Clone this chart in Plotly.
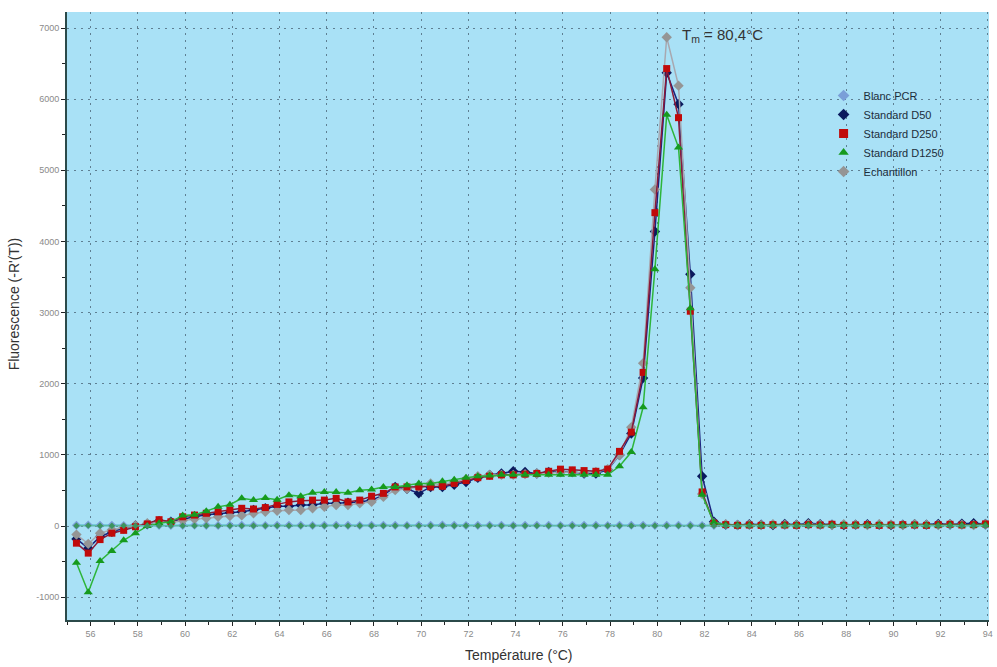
import plotly.graph_objects as go

temperature = [55.4, 55.9, 56.4, 56.9, 57.4, 57.9, 58.4, 58.9, 59.4, 59.9,
               60.4, 60.9, 61.4, 61.9, 62.4, 62.9, 63.4, 63.9, 64.4, 64.9,
               65.4, 65.9, 66.4, 66.9, 67.4, 67.9, 68.4, 68.9, 69.4, 69.9,
               70.4, 70.9, 71.4, 71.9, 72.4, 72.9, 73.4, 73.9, 74.4, 74.9,
               75.4, 75.9, 76.4, 76.9, 77.4, 77.9, 78.4, 78.9, 79.4, 79.9,
               80.4, 80.9, 81.4, 81.9, 82.4, 82.9, 83.4, 83.9, 84.4, 84.9,
               85.4, 85.9, 86.4, 86.9, 87.4, 87.9, 88.4, 88.9, 89.4, 89.9,
               90.4, 90.9, 91.4, 91.9, 92.4, 92.9, 93.4, 93.9]

blanc_pcr = [10, 15, 12, 10, 8, 10, 12, 10, 8, 10, 12, 10, 8, 10, 12, 10,
             8, 10, 12, 10, 8, 10, 12, 10, 8, 10, 12, 10, 8, 10, 12, 14,
             10, 8, 10, 12, 10, 8, 10, 12, 10, 8, 10, 12, 10, 8, 10, 12,
             10, 8, 10, 12, 10, 8, 10, 12, 10, 8, 10, 12, 10, 8, 10, 12,
             10, 8, 10, 12, 10, 8, 10, 12, 10, 8, 10, 12, 10, 8]

blanc_temoin = [5, 8, 6, 5, 4, 6, 5, 4, 6, 5, 4, 6, 5, 4, 6, 5,
                4, 6, 5, 4, 6, 5, 4, 6, 5, 4, 6, 5, 4, 6, 5, 8,
                6, 5, 4, 6, 5, 4, 6, 5, 4, 6, 5, 4, 6, 5, 4, 6,
                5, 4, 6, 5, 4, 6, 5, 4, 6, 5, 4, 6, 5, 4, 6, 5,
                4, 6, 5, 4, 6, 5, 4, 6, 5, 4, 6, 5, 4, 6]

std_d50 = [-180, -310, -150, -80, -30, 10, 30, 70, 60, 100, 130, 160, 170, 190, 200,
           225, 250, 280, 280, 295, 295, 320, 320, 330, 340, 365, 435, 550, 525, 460, 550, 550,
           580, 620, 680, 720, 740, 770, 760, 740, 760, 760, 760, 740, 740, 790,
           1000, 1300, 2080, 4140, 6370, 5930, 3540, 700, 60,
           20, 15, 25, 20, 15, 30, 20, 40, 25, 20, 15, 20, 25, 20, 15, 20, 25, 20, 30, 25, 35, 40, 30]

std_d250 = [-240, -380, -190, -100, -60, -10, 30, 90, 60, 130, 155, 180, 200, 225, 250,
            240, 260, 305, 340, 355, 365, 365, 390, 340, 365, 420, 460, 550, 550, 550, 550, 560,
            600, 640, 680, 700, 720, 720, 730, 740, 770, 800, 790, 780, 770, 800,
            1050, 1320, 2160, 4405, 6430, 5740, 3020, 480, 40,
            20, 10, 15, 10, 20, 15, 10, 20, 15, 25, 10, 15, 20, 10, 15, 20, 15, 10, 20, 25, 15, 20, 30]

std_d1250 = [-515, -930, -490, -350, -200, -100, 0, 40, 60, 150, 160, 210, 270, 300, 390,
             365, 395, 370, 435, 420, 470, 480, 480, 470, 505, 515, 550, 550, 575, 600, 600, 630,
             650, 680, 700, 710, 720, 720, 720, 720, 720, 720, 720, 720, 720, 720,
             840, 1040, 1670, 3610, 5780, 5320, 3060, 440, 50,
             15, 10, 12, 10, 15, 12, 10, 15, 12, 10, 15, 12, 10, 15, 12, 10, 15, 12, 10, 15, 12, 10, 15]

echantillon = [-120, -250, -100, -50, -20, 10, 40, 60, 50, 80, 100, 110, 130, 140, 150,
               180, 200, 215, 225, 225, 250, 270, 295, 295, 320, 340, 410, 505, 525, 550, 600, 580,
               620, 660, 700, 720, 720, 720, 730, 740, 750, 760, 760, 750, 760, 800,
               1000, 1390, 2290, 4730, 6870, 6190, 3350, 450, 40,
               25, 15, 20, 15, 25, 20, 15, 25, 20, 15, 25, 20, 15, 25, 20, 15, 25, 20, 15, 25, 20, 15, 25]

x_ticks = [56, 58, 60, 62, 64, 66, 68, 70, 72, 74, 76, 78, 80, 82, 84, 86, 88, 90, 92, 94]
y_ticks = [-1000, 0, 1000, 2000, 3000, 4000, 5000, 6000, 7000]

series = [
    # name, values, line colour, marker colour, symbol, size, legend rank
    ("Blanc PCR", blanc_pcr, "#45B7C8", "#7A9FD8", "diamond", 7, 1),
    ("Standard D50", std_d50, "#1A237E", "#0B1A5E", "diamond", 8, 2),
    ("Echantillon", echantillon, "#A8A8B0", "#959595", "diamond", 8, 5),
    ("Standard D250", std_d250, "#8B1A3A", "#C00A0A", "square", 7, 3),
    ("Standard D1250", std_d1250, "#2DB53A", "#169A1E", "triangle-up", 8, 4),
]

fig = go.Figure()

for name, vals, lc, mc, sym, sz, rank in series:
    fig.add_trace(go.Scatter(
        x=temperature, y=vals, name=name, mode="lines+markers",
        line=dict(color=lc, width=1.5),
        marker=dict(symbol=sym, size=sz, color=mc),
        showlegend=False))

fig.add_trace(go.Scatter(
    x=temperature, y=blanc_temoin, name="Blanc", mode="lines+markers",
    line=dict(color="#5FB8A8", width=1.5),
    marker=dict(symbol="diamond", size=5, color="#3C9460"),
    showlegend=False))

# legend entries (marker only, as in the reference)
for name, vals, lc, mc, sym, sz, rank in series:
    fig.add_trace(go.Scatter(
        x=[None], y=[None], name=name, mode="markers",
        marker=dict(symbol=sym, size=9, color=mc),
        showlegend=True, legendrank=rank))

fig.update_layout(
    width=997, height=667,
    margin=dict(l=67, r=4, t=12, b=47),
    paper_bgcolor="white",
    plot_bgcolor="#A9E1F6",
    font=dict(family="Liberation Sans, Arial, sans-serif", color="#333333"),
    showlegend=True,
    legend=dict(x=0.8206, y=0.8865, xanchor="left", yanchor="top",
                bgcolor="rgba(0,0,0,0)", borderwidth=0,
                font=dict(size=11, color="#1C2E3C"),
                tracegroupgap=0, itemwidth=30),
    xaxis=dict(range=[55.0, 94.05], tickvals=x_ticks, ticktext=[str(v) for v in x_ticks],
               showgrid=True, gridcolor="#5E7F92", griddash="2px,5px", gridwidth=1,
               zeroline=False, showline=True, linecolor="#2B4A4A", linewidth=2,
               ticks="outside", ticklen=4, tickcolor="#222222",
               minor=dict(dtick=1, tick0=55, ticks="outside", ticklen=3, tickcolor="#222222", showgrid=False),
               tickfont=dict(size=9, color="#8A8A8A")),
    yaxis=dict(range=[-1320, 7225], tickvals=y_ticks, ticktext=[str(v) for v in y_ticks],
               showgrid=True, gridcolor="#5E7F92", griddash="2px,5px", gridwidth=1,
               zeroline=False, showline=True, linecolor="#2B4A4A", linewidth=2,
               ticks="outside", ticklen=4, tickcolor="#222222",
               minor=dict(dtick=500, tick0=0, ticks="outside", ticklen=3, tickcolor="#222222", showgrid=False),
               tickfont=dict(size=9, color="#8A8A8A")),
    annotations=[
        dict(x=80.95, y=6900, xref="x", yref="y", text="T<sub>m</sub> = 80,4°C",
             showarrow=False, xanchor="left", yanchor="middle",
             font=dict(size=15, color="#333333")),
        dict(x=0.49, y=-0.0576, xref="paper", yref="paper", text="Température (°C)",
             showarrow=False, xanchor="center", yanchor="middle",
             font=dict(size=14, color="#333333")),
        dict(x=-0.058, y=0.52, xref="paper", yref="paper", text="Fluorescence (-R'(T))",
             showarrow=False, xanchor="center", yanchor="middle", textangle=-90,
             font=dict(size=14, color="#333333")),
    ],
)

fig.write_html("out.html")
